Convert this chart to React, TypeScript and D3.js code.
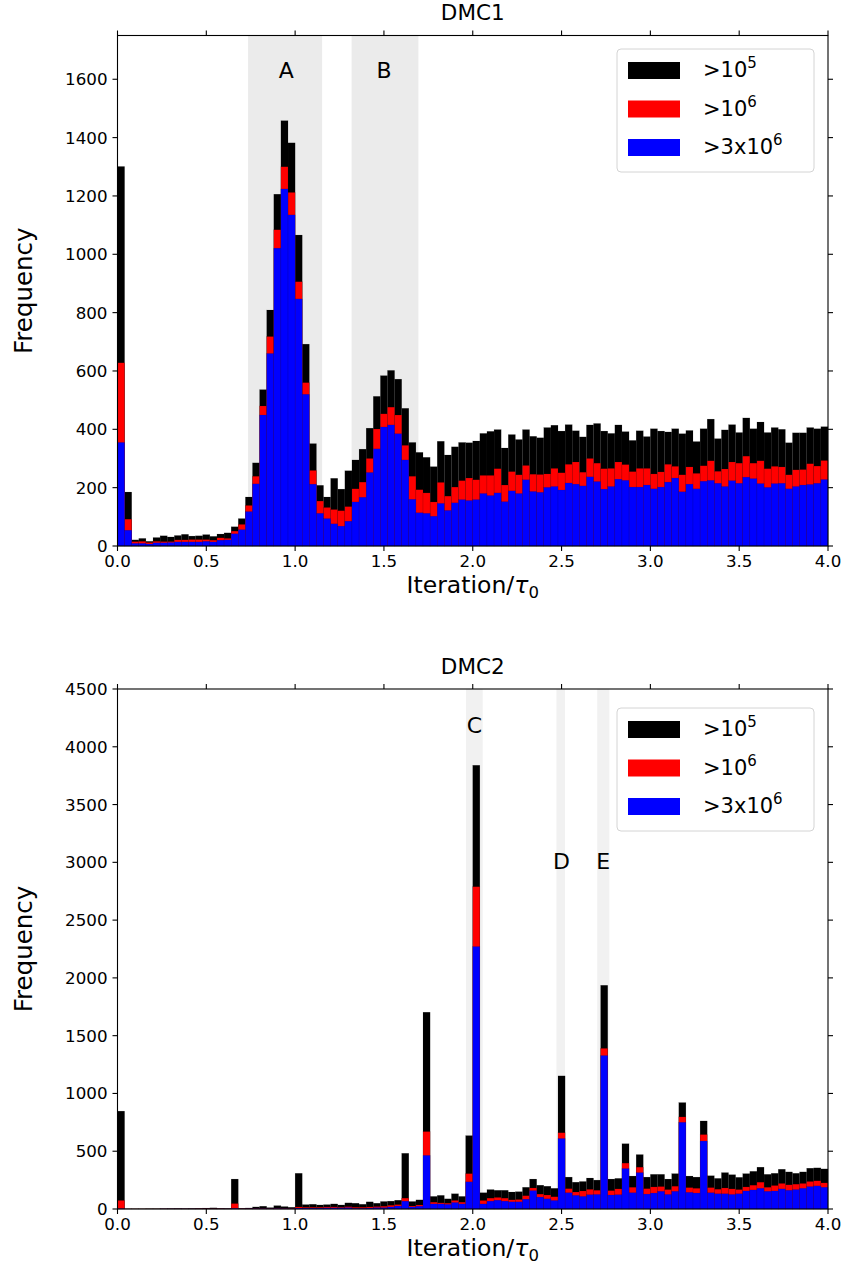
import React from "react";
import * as d3 from "d3";

const BIN_WIDTH = 0.04;
const X_TICKS = [0, 0.5, 1, 1.5, 2, 2.5, 3, 3.5, 4];

// DMC1 histogram counts (100 bins of width 0.04 over 0..4)
const dmc1Above1e5 = [1301, 185, 21, 26, 16, 29, 35, 31, 36, 40, 34, 35, 39, 33, 41, 45, 66, 94, 168, 285, 536, 809, 1206, 1458, 1382, 1066, 692, 351, 208, 168, 232, 195, 258, 295, 332, 404, 513, 584, 602, 572, 472, 355, 321, 304, 272, 359, 312, 340, 355, 354, 360, 386, 393, 399, 336, 382, 365, 399, 376, 371, 406, 414, 394, 416, 395, 374, 415, 420, 394, 386, 415, 392, 362, 395, 375, 402, 394, 391, 402, 385, 396, 358, 402, 435, 368, 398, 416, 389, 439, 402, 425, 389, 406, 400, 354, 388, 388, 406, 402, 409];
const dmc1Above1e6 = [628, 92, 15, 16, 12, 16, 15, 15, 21, 21, 22, 22, 22, 20, 28, 26, 51, 74, 139, 239, 480, 718, 1084, 1300, 1212, 906, 560, 259, 154, 132, 125, 121, 135, 196, 219, 300, 401, 453, 476, 449, 345, 239, 193, 182, 151, 218, 171, 202, 224, 233, 227, 242, 242, 265, 209, 255, 244, 276, 246, 245, 247, 266, 251, 280, 288, 253, 300, 284, 265, 266, 288, 279, 255, 266, 266, 247, 254, 280, 273, 244, 271, 249, 275, 292, 256, 264, 288, 284, 308, 284, 292, 265, 273, 271, 244, 261, 262, 282, 274, 293];
const dmc1Above3e6 = [355, 54, 9, 9, 7, 11, 11, 12, 14, 14, 14, 14, 16, 14, 20, 21, 42, 56, 118, 213, 449, 660, 1021, 1224, 1135, 847, 520, 212, 112, 94, 76, 68, 85, 151, 167, 252, 333, 408, 415, 385, 295, 160, 114, 112, 102, 146, 122, 148, 159, 156, 159, 180, 173, 182, 152, 189, 180, 227, 187, 184, 201, 204, 192, 216, 212, 206, 237, 221, 195, 204, 229, 225, 202, 202, 209, 196, 202, 219, 233, 186, 212, 196, 222, 225, 215, 204, 224, 215, 236, 231, 214, 201, 214, 215, 196, 204, 209, 211, 215, 228];

// DMC2 histogram counts
const dmc2Above1e5 = [847, 2, 2, 2, 3, 3, 3, 4, 5, 4, 5, 6, 8, 10, 6, 5, 259, 6, 9, 18, 24, 12, 29, 21, 15, 309, 38, 41, 35, 38, 44, 35, 53, 50, 41, 62, 50, 65, 68, 76, 482, 65, 79, 1703, 109, 118, 88, 132, 109, 635, 3840, 141, 168, 162, 162, 147, 150, 188, 259, 206, 197, 179, 1152, 276, 232, 238, 268, 250, 1936, 259, 265, 565, 285, 471, 276, 300, 300, 259, 306, 921, 285, 276, 762, 288, 265, 315, 297, 274, 306, 326, 362, 300, 309, 344, 321, 309, 321, 353, 356, 347];
const dmc2Above1e6 = [74, 1, 1, 1, 1, 1, 2, 2, 2, 2, 2, 3, 3, 3, 3, 2, 47, 3, 4, 6, 6, 4, 8, 6, 5, 18, 15, 15, 15, 18, 18, 15, 20, 15, 15, 18, 21, 24, 32, 38, 94, 26, 35, 670, 59, 53, 50, 74, 59, 306, 2789, 74, 94, 100, 94, 79, 82, 115, 182, 129, 121, 106, 660, 176, 147, 156, 170, 162, 1390, 159, 174, 397, 188, 362, 176, 191, 194, 168, 197, 797, 185, 179, 644, 185, 171, 182, 174, 168, 191, 206, 232, 188, 203, 221, 209, 215, 221, 238, 244, 226];
const dmc2Above3e6 = [3, 0, 0, 0, 0, 0, 1, 1, 1, 1, 1, 1, 1, 1, 1, 1, 5, 1, 2, 3, 3, 2, 4, 3, 2, 8, 8, 8, 8, 10, 10, 10, 12, 6, 6, 9, 12, 12, 18, 26, 68, 18, 24, 464, 44, 44, 40, 56, 44, 235, 2271, 44, 68, 76, 68, 62, 62, 85, 159, 103, 88, 74, 610, 141, 118, 109, 124, 126, 1328, 121, 124, 350, 141, 315, 129, 138, 153, 126, 153, 750, 144, 138, 588, 141, 132, 132, 126, 132, 156, 165, 179, 153, 156, 174, 162, 168, 179, 194, 200, 188];

const seriesLabels = ["5", "6", "6"];
const seriesPrefix = [">10", ">10", ">3x10"];
const seriesColors = ["#000000", "#ff0000", "#0000ff"];

const dmc1Regions = [
  { label: "A", x0: 0.735, x1: 1.152, lx: 0.95, ly: 1630 },
  { label: "B", x0: 1.318, x1: 1.694, lx: 1.5, ly: 1630 },
];
const dmc2Regions = [
  { label: "C", x0: 1.962, x1: 2.056, lx: 2.01, ly: 4188 },
  { label: "D", x0: 2.471, x1: 2.519, lx: 2.5, ly: 3003 },
  { label: "E", x0: 2.701, x1: 2.769, lx: 2.735, ly: 3003 },
];

const FONT = "DejaVu Sans, Verdana, sans-serif";
const LEFT = 117.5;
const RIGHT = 828;

type PanelProps = {
  title: string;
  top: number;
  bottom: number;
  yMax: number;
  yTicks: number[];
  series: number[][];
  regions: { label: string; x0: number; x1: number; lx: number; ly: number }[];
  shade: string;
  legendTop: number;
};

function Panel({ title, top, bottom, yMax, yTicks, series, regions, shade, legendTop }: PanelProps) {
  const x = d3.scaleLinear().domain([0, 4]).range([LEFT, RIGHT]);
  const y = d3.scaleLinear().domain([0, yMax]).range([bottom, top]);
  const bw = x(BIN_WIDTH) - x(0);
  const tickLen = 5;
  const fsTick = 16.7;
  return (
    <g>
      {regions.map((r) => (
        <rect key={"s" + r.label} x={x(r.x0)} y={top} width={x(r.x1) - x(r.x0)} height={bottom - top} fill={shade} />
      ))}
      {series.map((vals, si) => (
        <g key={"ser" + si}>
          {vals.map((v, i) => (
            <rect
              key={i}
              x={x(i * BIN_WIDTH)}
              y={y(v)}
              width={bw}
              height={Math.max(0, y(0) - y(v))}
              fill={seriesColors[si]}
              stroke="#000"
              strokeOpacity={0.25}
              strokeWidth={0.4}
            />
          ))}
        </g>
      ))}
      {regions.map((r) => (
        <text key={"l" + r.label} x={x(r.lx)} y={y(r.ly)} textAnchor="middle" dominantBaseline="central" fontFamily={FONT} fontSize={22}>
          {r.label}
        </text>
      ))}
      {/* frame */}
      <rect x={LEFT} y={top} width={RIGHT - LEFT} height={bottom - top} fill="none" stroke="#000" strokeWidth={1.1} />
      {/* x ticks */}
      {X_TICKS.map((t) => (
        <g key={"xt" + t}>
          <line x1={x(t)} x2={x(t)} y1={bottom} y2={bottom + tickLen} stroke="#000" strokeWidth={1.1} />
          <line x1={x(t)} x2={x(t)} y1={top} y2={top - tickLen} stroke="#000" strokeWidth={1.1} />
          <text x={x(t)} y={bottom + 21} textAnchor="middle" fontFamily={FONT} fontSize={fsTick}>
            {d3.format(".1f")(t)}
          </text>
        </g>
      ))}
      {yTicks.map((t) => (
        <g key={"yt" + t}>
          <line x1={LEFT} x2={LEFT - tickLen} y1={y(t)} y2={y(t)} stroke="#000" strokeWidth={1.1} />
          <line x1={RIGHT} x2={RIGHT + tickLen} y1={y(t)} y2={y(t)} stroke="#000" strokeWidth={1.1} />
          <text x={LEFT - 10} y={y(t)} textAnchor="end" dominantBaseline="central" fontFamily={FONT} fontSize={fsTick}>
            {t}
          </text>
        </g>
      ))}
      <text x={(LEFT + RIGHT) / 2} y={top - 15.5} textAnchor="middle" fontFamily={FONT} fontSize={21.5}>
        {title}
      </text>
      <text x={(LEFT + RIGHT) / 2} y={bottom + 47} textAnchor="middle" fontFamily={FONT} fontSize={23.5}>
        Iteration/<tspan fontStyle="italic">τ</tspan>
        <tspan fontSize={16.5} dy={5}>0</tspan>
      </text>
      <text
        transform={`translate(${32},${(top + bottom) / 2}) rotate(-90)`}
        textAnchor="middle"
        fontFamily={FONT}
        fontSize={24.5}
      >
        Frequency
      </text>
      {/* legend */}
      <g transform={`translate(617,${legendTop})`}>
        <rect x={0} y={0} width={197} height={123} rx={4} fill="#fff" fillOpacity={0.85} stroke="#d4d4d4" strokeWidth={1} />
        {seriesColors.map((c, i) => (
          <g key={"lg" + i} transform={`translate(0,${13 + i * 38.5})`}>
            <rect x={11} y={0} width={52} height={17} fill={c} />
            <text x={86} y={15} fontFamily={FONT} fontSize={21}>
              {seriesPrefix[i]}
              <tspan fontSize={15} dy={-9}>{seriesLabels[i]}</tspan>
            </text>
          </g>
        ))}
      </g>
    </g>
  );
}

export default function App() {
  return (
    <svg width={849} height={1277} style={{ position: "absolute", left: 0, top: 0, background: "#fff" }}>
      <rect x={0} y={0} width={849} height={1277} fill="#fff" />
      <Panel
        title="DMC1"
        top={35.5}
        bottom={546}
        yMax={1750}
        yTicks={[0, 200, 400, 600, 800, 1000, 1200, 1400, 1600]}
        series={[dmc1Above1e5, dmc1Above1e6, dmc1Above3e6]}
        regions={dmc1Regions}
        shade="#ebebeb"
        legendTop={49}
      />
      <Panel
        title="DMC2"
        top={689}
        bottom={1209}
        yMax={4500}
        yTicks={[0, 500, 1000, 1500, 2000, 2500, 3000, 3500, 4000, 4500]}
        series={[dmc2Above1e5, dmc2Above1e6, dmc2Above3e6]}
        regions={dmc2Regions}
        shade="#f1f1f1"
        legendTop={708}
      />
    </svg>
  );
}
